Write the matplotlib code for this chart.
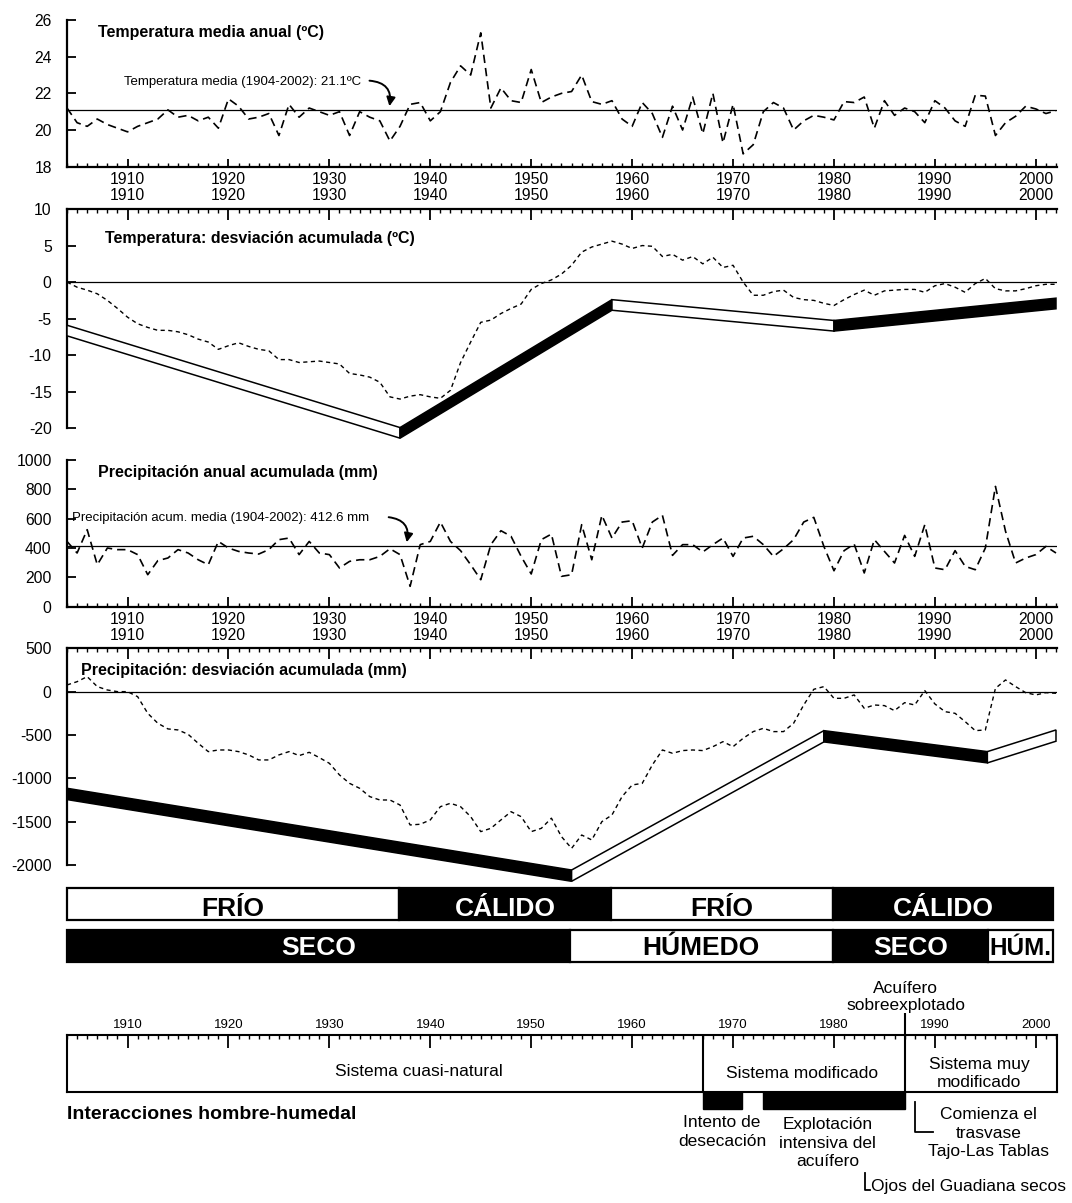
"""Clima y humedal, 1904-2002: temperatura, precipitación e interacciones hombre-humedal."""

import matplotlib

matplotlib.use("Agg")
import matplotlib.pyplot as plt
from matplotlib.patches import Polygon, Rectangle
from matplotlib.ticker import FixedLocator

plt.rcParams["font.family"] = ["Liberation Sans", "DejaVu Sans"]
plt.rcParams["axes.unicode_minus"] = False

# ---------------------------------------------------------------- data
years = list(range(1904, 2003))
decades = list(range(1910, 2001, 10))

temp_anual = [
    21.2, 20.4, 20.2, 20.6, 20.3, 20.1, 19.9, 20.2, 20.4, 20.6,
    21.1, 20.7, 20.8, 20.5, 20.7, 20.1, 21.7, 21.3, 20.6, 20.7,
    20.9, 19.7, 21.4, 20.7, 21.2, 21.0, 20.8, 21.0, 19.7, 21.0,
    20.7, 20.5, 19.4, 20.2, 21.4, 21.5, 20.5, 21.0, 22.6, 23.5,
    23.0, 25.3, 21.2, 22.3, 21.6, 21.5, 23.3, 21.5, 21.8, 22.0,
    22.1, 23.0, 21.55, 21.4, 21.6, 20.6, 20.2, 21.5, 20.9, 19.6,
    21.3, 20.0, 21.8, 19.8, 22.0, 19.3, 21.4, 18.7, 19.2, 21.0,
    21.5, 21.2, 20.0, 20.5, 20.8, 20.7, 20.55, 21.55, 21.5, 21.8,
    20.1, 21.6, 20.8, 21.2, 21.0, 20.4, 21.6, 21.2, 20.5, 20.2,
    21.9, 21.85, 19.7, 20.4, 20.75, 21.3, 21.15, 20.9, 21.05,
]
temp_media = 21.1

temp_desv_acum = [
    0.0, -0.7, -1.1, -1.6, -2.5, -3.6, -4.8, -5.7, -6.2, -6.6,
    -6.6, -6.8, -7.2, -7.8, -8.2, -9.2, -8.7, -8.3, -8.8, -9.2,
    -9.4, -10.6, -10.6, -11.0, -10.9, -10.8, -11.0, -11.2, -12.5, -12.7,
    -13.0, -13.7, -15.7, -16.0, -15.6, -15.4, -15.7, -15.9, -14.8, -11.0,
    -8.2, -5.5, -5.2, -4.3, -3.6, -3.0, -1.0, -0.2, 0.3, 1.1,
    2.3, 4.1, 4.8, 5.2, 5.6, 5.2, 4.6, 5.0, 4.9, 3.5,
    3.8, 3.0, 3.5, 2.5, 3.4, 2.0, 2.3, 0.0, -1.8, -1.8,
    -1.3, -1.1, -2.1, -2.4, -2.5, -2.9, -3.2, -2.4, -1.7, -1.1,
    -1.8, -1.2, -1.1, -1.0, -1.0, -1.4, -0.5, -0.2, -0.7, -1.4,
    -0.2, 0.5, -0.9, -1.2, -1.2, -0.9, -0.5, -0.3, -0.3,
]

prec_anual = [
    445, 366, 525, 286, 400, 389, 389, 355, 218, 314,
    332, 389, 366, 320, 286, 445, 400, 377, 366, 359,
    389, 457, 468, 355, 445, 366, 355, 264, 309, 320,
    320, 343, 395, 355, 139, 423, 445, 577, 445, 382,
    286, 184, 423, 518, 480, 343, 223, 457, 495, 207,
    218, 559, 320, 623, 468, 577, 586, 400, 577, 623,
    350, 423, 423, 373, 423, 468, 343, 468, 480, 423,
    343, 395, 457, 577, 609, 411, 245, 382, 427, 230,
    457, 377, 298, 486, 343, 559, 264, 252, 382, 275,
    252, 400, 820, 514, 298, 332, 355, 411, 366,
]
prec_media = 412.6

prec_desv_acum = [
    77, 115, 173, 58, 19, 0, 0, -58, -250, -365,
    -430, -442, -492, -596, -692, -673, -673, -692, -730, -788,
    -788, -730, -692, -738, -700, -761, -827, -961, -1058, -1115,
    -1211, -1250, -1250, -1308, -1538, -1530, -1480, -1327, -1288, -1327,
    -1442, -1615, -1577, -1480, -1385, -1442, -1615, -1577, -1460, -1673,
    -1808, -1654, -1711, -1500, -1423, -1211, -1077, -1058, -846, -673,
    -711, -680, -673, -680, -635, -577, -635, -538, -461, -423,
    -461, -461, -365, -154, 27, 58, -77, -77, -38, -192,
    -154, -161, -219, -127, -154, 12, -142, -231, -250, -346,
    -450, -442, 38, 135, 58, -12, -38, -12, -19,
]

# trend ribbons (upper edge at each vertex, thickness of the ribbon)
temp_trend_years = [1904, 1937, 1958, 1980, 2002]
temp_trend_top = [-5.9, -19.9, -2.4, -5.25, -2.2]
temp_trend_thick = 1.45
temp_trend_fill = ["white", "black", "white", "black"]

prec_trend_years = [1904, 1954, 1979, 1995.2, 2002]
prec_trend_top = [-1115, -2058, -450, -692, -442]
prec_trend_thick = 130
prec_trend_fill = ["black", "white", "black", "white"]

# period bars
temp_period_edges = [1904, 1936.9, 1957.9, 1979.9, 2001.7]
temp_period_labels = ["FRÍO", "CÁLIDO", "FRÍO", "CÁLIDO"]
temp_period_fill = ["white", "black", "white", "black"]

prec_period_edges = [1904, 1953.8, 1979.9, 1995.3, 2001.7]
prec_period_labels = ["SECO", "HÚMEDO", "SECO", "HÚM."]
prec_period_fill = ["black", "white", "black", "white"]

# human-wetland timeline
system_edges = [1904, 1967, 1987, 2002.1]
system_labels = ["Sistema cuasi-natural", "Sistema modificado", "Sistema muy\nmodificado"]
action_spans = [(1967, 1970.9), (1973, 1987)]
action_labels = ["Intento de\ndesecación", "Explotación\nintensiva del\nacuífero"]

# ---------------------------------------------------------------- layout
W, H = 1072, 1203
X0, X1 = 1904, 2002.1
fig = plt.figure(figsize=(W / 100, H / 100), dpi=100)


def px_axes(x0, y0, x1, y1):
    """Axes placed from pixel coordinates (origin top-left)."""
    return fig.add_axes([x0 / W, 1 - y1 / H, (x1 - x0) / W, (y1 - y0) / H])


def ptext(x, y, s, **kw):
    fig.text(x / W, 1 - y / H, s, **kw)


def style_series_axis(ax, side, major_len, ylim, yticks):
    ax.set_xlim(X0, X1)
    ax.set_ylim(*ylim)
    ax.patch.set_alpha(0)
    for name, spine in ax.spines.items():
        spine.set_visible(name in ("left", side))
        spine.set_linewidth(1.6)
    ax.set_yticks(yticks)
    ax.xaxis.set_major_locator(FixedLocator(decades))
    ax.xaxis.set_minor_locator(FixedLocator(years))
    if side == "top":
        ax.xaxis.tick_top()
    ax.tick_params(axis="x", which="major", direction="in", length=major_len,
                   width=1.3, labelsize=11.3, pad=4)
    ax.tick_params(axis="x", which="minor", direction="in", length=3, width=1.0)
    ax.tick_params(axis="y", direction="in", length=6.2, width=1.3,
                   labelsize=11.3, pad=11)


def draw_ribbon(ax, xs, tops, thick, fills):
    for i, fc in enumerate(fills):
        verts = [(xs[i], tops[i]), (xs[i + 1], tops[i + 1]),
                 (xs[i + 1], tops[i + 1] - thick), (xs[i], tops[i] - thick)]
        ax.add_patch(Polygon(verts, closed=True, facecolor=fc, edgecolor="black",
                             lw=1.1, zorder=3, clip_on=False))


dash_long = (0, (5, 3))
dash_short = (0, (3, 2.5))

# panel 1: annual temperature
ax1 = px_axes(67, 20, 1057, 166.7)
style_series_axis(ax1, "bottom", 5.5, (18, 26), [18, 20, 22, 24, 26])
ax1.plot(years, temp_anual, color="black", lw=1.2, ls=dash_long)
ax1.axhline(temp_media, color="black", lw=0.9)
ax1.text(1909.6, 22.64, "Temperatura media (1904-2002): 21.1ºC", ha="left",
         va="center", fontsize=9.5)
ax1.annotate("", xy=(1935.9, temp_media + 0.05), xytext=(1933.7, 22.7),
             arrowprops=dict(arrowstyle="-|>", connectionstyle="arc3,rad=-0.6",
                             color="black", lw=1.4, mutation_scale=13))
ptext(98, 33, "Temperatura media anual (ºC)", fontsize=11.5, fontweight="bold",
      va="center")

# panel 2: cumulative temperature deviation
ax2 = px_axes(67, 209, 1057, 428.3)
style_series_axis(ax2, "top", 8, (-20, 10), [-20, -15, -10, -5, 0, 5, 10])
ax2.plot(years, temp_desv_acum, color="black", lw=1.0, ls=dash_short)
ax2.axhline(0, color="black", lw=0.9)
draw_ribbon(ax2, temp_trend_years, temp_trend_top, temp_trend_thick, temp_trend_fill)
ptext(105, 238, "Temperatura: desviación acumulada (ºC)", fontsize=11.5,
      fontweight="bold", va="center")

# panel 3: annual precipitation
ax3 = px_axes(67, 460, 1057, 606.7)
style_series_axis(ax3, "bottom", 7, (0, 1000), [0, 200, 400, 600, 800, 1000])
ax3.plot(years, prec_anual, color="black", lw=1.2, ls=dash_long)
ax3.axhline(prec_media, color="black", lw=0.9)
ax3.text(1904.5, 607, "Precipitación acum. media (1904-2002): 412.6 mm",
         ha="left", va="center", fontsize=9.5)
ax3.annotate("", xy=(1937.6, prec_media + 8), xytext=(1935.6, 612),
             arrowprops=dict(arrowstyle="-|>", connectionstyle="arc3,rad=-0.6",
                             color="black", lw=1.4, mutation_scale=13))
ptext(98, 473, "Precipitación anual acumulada (mm)", fontsize=11.5,
      fontweight="bold", va="center")

# panel 4: cumulative precipitation deviation
ax4 = px_axes(67, 648.3, 1057, 865)
style_series_axis(ax4, "top", 8, (-2000, 500), [-2000, -1500, -1000, -500, 0, 500])
ax4.plot(years, prec_desv_acum, color="black", lw=1.0, ls=dash_short)
ax4.axhline(0, color="black", lw=0.9)
draw_ribbon(ax4, prec_trend_years, prec_trend_top, prec_trend_thick, prec_trend_fill)
ptext(81, 670, "Precipitación: desviación acumulada (mm)", fontsize=11.5,
      fontweight="bold", va="center")


# period bars
def period_row(y0, y1, edges, labels, fills, base):
    ax = px_axes(67, y0, 1057, y1)
    ax.set_xlim(X0, X1)
    ax.set_ylim(0, 1)
    ax.axis("off")
    for i, (lab, fc) in enumerate(zip(labels, fills)):
        ax.add_patch(Rectangle((edges[i], 0), edges[i + 1] - edges[i], 1,
                               facecolor=fc, edgecolor="black", lw=1.6, clip_on=False))
        tc = "white" if fc == "black" else "black"
        size = 17.5 if lab.endswith(".") else 19
        ax.text((edges[i] + edges[i + 1]) / 2, base, lab, ha="center", va="baseline",
                color=tc, fontsize=size, fontweight="bold")
    return ax


period_row(887.7, 920, temp_period_edges, temp_period_labels, temp_period_fill, 0.12)
period_row(930, 961.7, prec_period_edges, prec_period_labels, prec_period_fill, 0.2)

# human-wetland timeline
ax5 = px_axes(67, 1035, 1057, 1092)
ax5.set_xlim(X0, X1)
ax5.set_ylim(0, 1)
for spine in ax5.spines.values():
    spine.set_linewidth(1.5)
ax5.set_yticks([])
ax5.xaxis.tick_top()
ax5.xaxis.set_major_locator(FixedLocator(decades))
ax5.xaxis.set_minor_locator(FixedLocator(years))
ax5.tick_params(axis="x", which="major", direction="in", length=9, width=1.3,
                labelsize=9.5, pad=3)
ax5.tick_params(axis="x", which="minor", direction="in", length=3, width=1.0)

ax5.vlines(system_edges[1], 0, 1, color="black", lw=1.5)
ax5.vlines(system_edges[2], 0, 1.39, color="black", lw=1.5, clip_on=False)
system_pos = [(1938.9, 0.36), (1976.8, 0.33), (1994.4, 0.33)]
for (x, y), lab in zip(system_pos, system_labels):
    ax5.text(x, y, lab, ha="center", va="center", fontsize=12.5, linespacing=1.25)

for (a, b) in action_spans:
    ax5.add_patch(Rectangle((a, -0.3), b - a, 0.3, facecolor="black",
                            edgecolor="black", lw=1.0, clip_on=False))
action_pos = [(1968.9, -0.70), (1979.4, -0.90)]
for (x, y), lab in zip(action_pos, action_labels):
    ax5.text(x, y, lab, ha="center", va="center", fontsize=12.5, linespacing=1.3)

ax5.text(1987.1, 1.67, "Acuífero\nsobreexplotado", ha="center", va="center",
         fontsize=12.5, linespacing=1.2)
ax5.plot([1988.0, 1988.0, 1989.8], [-0.17, -0.70, -0.70], color="black", lw=1.3,
         clip_on=False)
ax5.text(1995.3, -0.72, "Comienza el\ntrasvase\nTajo-Las Tablas", ha="center",
         va="center", fontsize=12.5, linespacing=1.3)
ax5.plot([1983.05, 1983.05, 1983.6], [-1.42, -1.72, -1.72], color="black", lw=1.3,
         clip_on=False)
ax5.text(1983.7, -1.65, "Ojos del Guadiana secos", ha="left", va="center",
         fontsize=12.5)
ax5.text(X0, -0.40, "Interacciones hombre-humedal", ha="left", va="center",
         fontsize=14, fontweight="bold")

fig.savefig("out.png", dpi=100)
plt.close(fig)
